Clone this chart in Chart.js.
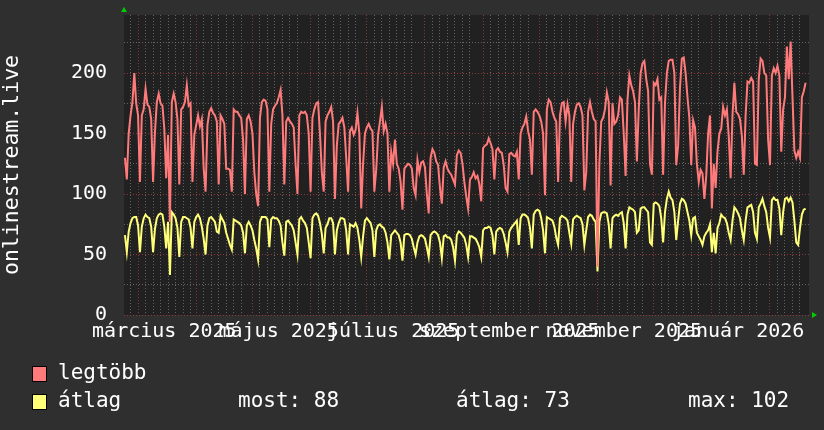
<!DOCTYPE html>
<html><head><meta charset="utf-8">
<script src="https://cdn.jsdelivr.net/npm/chart.js@4/dist/chart.umd.min.js"></script>
<style>html,body{margin:0;padding:0;background:#2f2f2f;overflow:hidden}canvas{display:block}</style>
</head><body>
<canvas id="c" width="824" height="430"></canvas>
<script>
// first data point: 2025-02-22, one value per day
const maxValues = [130,112,150,165,176,200,175,165,110,165,170,187,174,172,162,110,151,176,183,175,173,154,113,149,77,176,183,176,162,108,170,172,176,190,173,175,110,149,157,165,156,162,121,102,157,168,171,167,165,160,108,165,162,158,121,121,120,102,170,168,168,165,163,145,100,162,165,160,150,118,100,90,163,176,178,177,170,102,158,170,173,175,180,186,165,108,160,163,160,158,155,125,100,165,168,167,168,165,150,102,163,170,175,176,150,118,102,160,165,168,172,160,96,140,158,160,163,155,130,102,152,155,149,153,167,150,88,125,150,155,158,154,152,102,120,149,160,172,152,158,150,102,135,125,145,125,121,110,87,121,123,125,124,121,105,99,128,118,126,127,122,100,84,130,137,134,127,124,105,92,122,127,121,118,116,112,108,132,136,134,125,110,98,88,112,114,118,113,115,108,94,138,140,141,146,142,137,112,136,138,135,134,124,105,102,133,134,132,131,135,112,150,155,158,164,152,145,116,168,170,168,165,160,150,99,170,178,176,168,163,160,110,165,175,176,160,174,165,110,158,168,174,175,172,165,103,118,168,176,168,162,160,40,125,160,163,170,184,176,107,175,158,160,165,180,178,150,115,178,198,190,185,176,127,170,200,208,210,195,185,125,116,192,190,195,178,180,116,175,200,210,211,211,200,124,140,188,212,213,200,180,163,124,161,155,125,110,120,117,96,115,150,165,88,125,105,135,150,154,172,165,170,148,113,165,192,168,166,162,148,116,165,193,192,196,193,125,124,195,212,210,200,198,145,124,198,204,200,206,198,135,170,180,222,195,226,180,136,130,135,130,180,185,192];
const avgValues = [66,52,69,76,80,81,81,74,52,73,80,83,81,80,73,52,71,80,83,84,83,73,55,77,33,85,83,80,72,48,77,81,81,80,79,72,55,77,81,83,80,73,63,50,74,80,81,79,77,69,68,82,79,76,68,63,58,54,79,78,77,76,74,68,51,74,77,74,70,62,55,46,77,81,81,81,79,56,79,81,80,80,78,74,60,49,77,78,76,74,70,60,50,79,81,78,76,72,60,47,80,83,84,82,76,67,51,72,75,80,80,76,50,70,76,80,80,79,70,50,75,74,73,76,72,62,48,65,78,80,78,76,70,48,70,74,75,73,72,68,60,46,66,68,70,68,66,60,45,66,67,67,66,63,56,50,60,65,66,65,63,56,48,66,68,69,68,66,60,47,65,66,64,64,62,56,45,66,69,68,66,64,58,48,65,65,64,63,60,56,48,70,72,72,73,72,66,50,69,71,72,71,67,60,52,69,72,74,76,78,58,80,83,83,82,80,72,55,83,86,87,86,80,70,51,81,80,79,78,73,64,58,80,82,81,80,78,68,59,79,81,82,81,80,75,58,70,81,83,82,79,77,36,77,84,85,85,84,75,55,80,82,83,82,84,85,76,55,83,89,88,87,85,68,70,88,89,89,87,85,60,58,92,93,92,90,80,60,85,96,102,97,95,85,62,78,92,96,95,92,85,78,66,80,81,68,65,62,58,65,68,70,75,52,68,51,72,76,83,81,80,76,68,62,78,89,87,84,80,70,62,78,89,90,91,85,68,63,89,92,96,90,85,72,64,95,97,95,95,88,66,85,96,97,94,97,93,78,60,58,72,83,87,88];
const seriesNames = ['legtöbb', 'átlag'];
const statTexts = ['most: 88', 'átlag: 73', 'max: 102'];
const yAxisTitle = 'onlinestream.live';
const yLabelValues = [0, 50, 100, 150, 200];
const monthStartDays = [7, 38, 68, 99, 129, 160, 191, 221, 252, 282, 313, 344];
const labelDays = [21, 82, 143, 205, 266, 327];
const labelTexts = ['március 2025', 'május 2025', 'július 2025', 'szeptember 2025', 'november 2025', 'január 2026'];
const minorGridDays = [3, 11, 15, 19, 23, 27, 31, 35, 42, 46, 50, 54, 58, 62, 72, 76, 80, 84, 88, 92, 103, 107, 111, 115, 119, 123, 133, 137, 141, 145, 149, 153, 164, 168, 172, 176, 180, 184, 195, 199, 203, 207, 211, 215, 225, 229, 233, 237, 241, 245, 256, 260, 264, 268, 272, 276, 286, 290, 294, 298, 302, 306, 317, 321, 325, 329, 333, 337, 348, 352, 356, 360];

const FONT = 'DejaVu Sans Mono';
const RED = '#ff7b7b', YEL = '#ffff78';
const MAJOR = 'rgba(150,60,60,0.9)', MINOR = 'rgba(120,120,120,0.75)';

const bgPlugin = {
  id: 'bg',
  beforeDraw(chart) {
    const {ctx, chartArea: a} = chart;
    ctx.save();
    ctx.fillStyle = '#2f2f2f';
    ctx.fillRect(0, 0, chart.width, chart.height);
    ctx.fillStyle = '#212121';
    ctx.fillRect(a.left, a.top, a.right - a.left, a.bottom - a.top);
    ctx.restore();
  },
  afterDraw(chart) {
    const {ctx, chartArea: a} = chart;
    ctx.save();
    ctx.fillStyle = '#00cc00';
    ctx.beginPath();
    ctx.moveTo(a.left - 3, a.top - 3); ctx.lineTo(a.left + 3, a.top - 3); ctx.lineTo(a.left, a.top - 8); ctx.closePath(); ctx.fill();
    ctx.beginPath();
    ctx.moveTo(a.right + 3, a.bottom - 3); ctx.lineTo(a.right + 3, a.bottom + 3); ctx.lineTo(a.right + 8, a.bottom); ctx.closePath(); ctx.fill();
    const colors = [RED, YEL];
    const rows = [374, 402];
    ctx.font = '21px "' + FONT + '"';
    ctx.textBaseline = 'middle';
    ctx.textAlign = 'left';
    for (let i = 0; i < 2; i++) {
      ctx.fillStyle = colors[i];
      ctx.fillRect(32, rows[i] - 8, 15, 16);
      ctx.strokeStyle = '#000';
      ctx.lineWidth = 1;
      ctx.strokeRect(32.5, rows[i] - 7.5, 14, 15);
      ctx.fillStyle = '#ffffff';
      ctx.fillText(seriesNames[i], 58, rows[i]);
    }
    const statX = [238, 456, 688];
    statTexts.forEach((t, i) => ctx.fillText(t, statX[i], rows[1]));
    ctx.restore();
  }
};

new Chart(document.getElementById('c'), {
  type: 'line',
  data: {
    datasets: [
      {label: seriesNames[0], data: maxValues.map((v, i) => ({x: i, y: v})), borderColor: RED, borderWidth: 2, pointRadius: 0, tension: 0, fill: false},
      {label: seriesNames[1], data: avgValues.map((v, i) => ({x: i, y: v})), borderColor: YEL, borderWidth: 2, pointRadius: 0, tension: 0, fill: false}
    ]
  },
  options: {
    responsive: false,
    animation: false,
    devicePixelRatio: 1,
    layout: {padding: {top: 15, right: 15, left: 0, bottom: 0}},
    plugins: {legend: {display: false}, tooltip: {enabled: false}},
    scales: {
      x: {
        type: 'linear',
        min: -0.5,
        max: 364.8,
        afterFit(s) { s.height = 115; s.paddingLeft = 0; s.paddingRight = 0; },
        afterBuildTicks(s) {
          const t = [];
          minorGridDays.forEach(d => t.push({value: d, kind: 'minor'}));
          monthStartDays.forEach(d => t.push({value: d, kind: 'major'}));
          labelDays.forEach((d, i) => t.push({value: d, kind: 'label', text: labelTexts[i]}));
          s.ticks = t;
        },
        ticks: {
          autoSkip: false, maxRotation: 0, minRotation: 0, padding: 5,
          color: '#ffffff', font: {family: FONT, size: 20},
          callback(v, i, ticks) { return ticks[i].kind === 'label' ? ticks[i].text : ''; }
        },
        grid: {
          drawTicks: false,
          lineWidth: 1,
          color(c) {
            const k = c.tick && c.tick.kind;
            if (k === 'major') return MAJOR;
            if (k === 'minor') return MINOR;
            return 'rgba(0,0,0,0)';
          }
        },
        border: {display: false, dash: [1, 2]}
      },
      y: {
        min: 0,
        max: 248,
        afterFit(s) { s.width = 124; s.paddingTop = 0; s.paddingBottom = 0; },
        afterBuildTicks(s) {
          const t = [];
          for (let v = 0; v <= 245; v += 5) t.push({value: v});
          s.ticks = t;
        },
        ticks: {
          padding: 17, color: '#ffffff', font: {family: FONT, size: 20},
          callback(v) { return yLabelValues.includes(v) ? String(v) : ''; }
        },
        grid: {
          drawTicks: false,
          lineWidth: 1,
          color(c) {
            const v = c.tick ? c.tick.value : 0;
            return v % 50 === 0 ? MAJOR : MINOR;
          }
        },
        border: {display: false, dash: [1, 2]},
        title: {display: true, text: yAxisTitle, color: '#ffffff', font: {family: FONT, size: 21.5}, padding: {top: 0, bottom: 0}}
      }
    }
  },
  plugins: [bgPlugin]
});
</script>
</body></html>
